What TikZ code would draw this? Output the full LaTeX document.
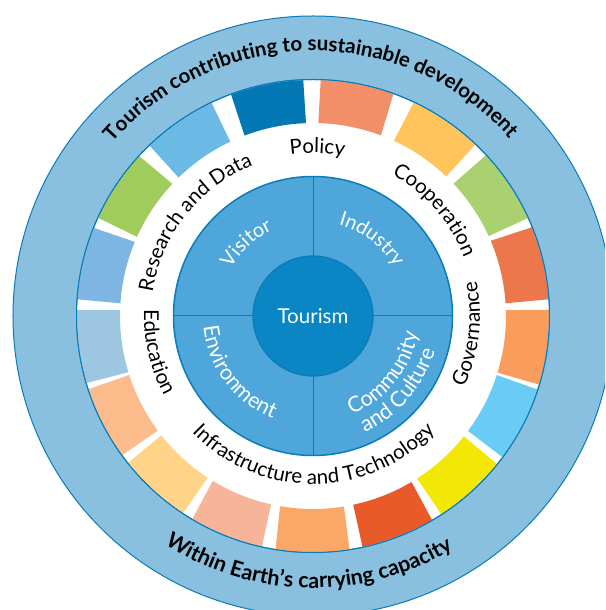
\documentclass[tikz,border=0pt]{standalone}
\usepackage{fontspec}
\setmainfont{Lato}
\usetikzlibrary{decorations.text}
\definecolor{ringfill}{HTML}{89BFDF}
\definecolor{edgeblue}{HTML}{0A7CB8}
\definecolor{wheelblue}{HTML}{4EA6DA}
\definecolor{hubblue}{HTML}{0A86C5}
\definecolor{sa}{HTML}{0378B5}
\definecolor{sb}{HTML}{F28F68}
\definecolor{sc}{HTML}{FFC45C}
\definecolor{sd}{HTML}{A9D16F}
\definecolor{se}{HTML}{EC774B}
\definecolor{sf}{HTML}{F99C5C}
\definecolor{sg}{HTML}{69CCF5}
\definecolor{sh}{HTML}{F2E705}
\definecolor{si}{HTML}{E95A2A}
\definecolor{sj}{HTML}{F9A868}
\definecolor{sk}{HTML}{F6B599}
\definecolor{sl}{HTML}{FFD488}
\definecolor{sm}{HTML}{FBBB8A}
\definecolor{sn}{HTML}{9DC6E1}
\definecolor{so}{HTML}{7FB5E2}
\definecolor{sp}{HTML}{9FCC5C}
\definecolor{sq}{HTML}{6BB9E5}
\newcommand\seg[9]{%
  \pgfmathsetmacro\oa{atan2(316-#3,#2-313)}%
  \pgfmathsetmacro\ob{atan2(316-#5,#4-313)}%
  \pgfmathsetmacro\ob{\oa-mod(\oa-\ob+720,360)}%
  \pgfmathsetmacro\ib{atan2(316-#7,#6-313)}%
  \pgfmathsetmacro\ia{atan2(316-#9,#8-313)}%
  \pgfmathsetmacro\ia{\ib+mod(\ia-\ib+720,360)}%
  \fill[fill=#1] (\oa:236pt) arc[start angle=\oa,end angle=\ob,radius=236pt]
    -- (\ib:193pt) arc[start angle=\ib,end angle=\ia,radius=193pt] -- cycle;
}
% radius, centre angle, half span, +1 clockwise / -1 counterclockwise, text spec
\newcommand\arctext[5]{%
  \pgfmathsetmacro\sta{#2+#4*#3}%
  \pgfmathsetmacro\ena{#2-#4*#3}%
  \path[decorate,decoration={text along path,text align=center,text={#5}}]
    (\sta:#1pt) arc[start angle=\sta,end angle=\ena,radius=#1pt];
}
\newcommand\fsouter{\fontsize{20.5}{20.5}\bfseries\selectfont}
\newcommand\fsouterb{\fontsize{21.5}{21.5}\bfseries\selectfont}
\newcommand\fsband{\fontsize{20.5}{20.5}\selectfont}
\newcommand\fswheel{\color{white}\fontsize{20}{20}\selectfont}
\newcommand\fswheelb{\color{white}\fontsize{21.5}{21.5}\selectfont}
\begin{document}
\begin{tikzpicture}
\useasboundingbox (-313pt,-294pt) rectangle (292pt,316pt);
\clip (-313pt,-294pt) rectangle (292pt,316pt);
\fill[white] (-313pt,-294pt) rectangle (292pt,316pt);
\draw[fill=ringfill,draw=edgeblue,line width=1pt] (0,0) circle[radius=300pt];
\draw[fill=white,draw=edgeblue,line width=1pt] (0,0) circle[radius=236.5pt];
% seventeen segments, clockwise from the top: outer start, outer end, inner end, inner start
\seg{sa}{231}{94.3}{303.3}{80.7}{306}{122.7}{244.3}{135}
\seg{sb}{320.7}{81}{393.3}{94.3}{381}{135}{318.3}{123}
\seg{sc}{413.3}{103.3}{475}{145}{446.7}{176}{394.3}{140}
\seg{sd}{485}{156}{527.3}{218.3}{489}{236}{454}{183.3}
\seg{se}{531.7}{227.3}{548.3}{299.3}{505.7}{303.3}{491}{240.7}
\seg{sf}{548.5}{310}{537.3}{384}{497.7}{372.7}{506}{310}
\seg{sg}{536.7}{389.3}{501}{456}{467.7}{430.7}{496.7}{375}
\seg{sh}{496}{463.3}{440.7}{513.3}{417.7}{479.3}{464.3}{436.7}
\seg{si}{431.7}{519.3}{362.3}{546}{353.3}{505}{411.7}{482.3}
\seg{sj}{349.3}{548.3}{275.7}{548.3}{280}{506.7}{344}{506.7}
\seg{sk}{262.3}{545}{192.7}{518.3}{212.3}{481.7}{271}{504.3}
\seg{sl}{184}{511.7}{129.3}{461.7}{161}{435.7}{207.3}{478.3}
\seg{sm}{123.3}{454.3}{89.3}{389}{129}{375}{157.3}{431}
\seg{sn}{87.7}{382.7}{77}{310}{120}{310}{128}{372.3}
\seg{so}{77.7}{299.3}{95}{228.3}{134.3}{241.7}{120}{303.3}
\seg{sp}{99.3}{218.3}{140}{156.7}{171.7}{183.3}{136.7}{236.7}
\seg{sq}{150}{146}{212.3}{104.3}{230}{141}{178.3}{177.3}
\draw[edgeblue,line width=1pt] (0,0) circle[radius=236.5pt];
% wheel
\draw[fill=wheelblue,draw=edgeblue,line width=1.5pt] (0,0) circle[radius=139.5pt];
\draw[edgeblue,line width=1pt] (0pt,139pt) -- (0pt,-139pt) (-139pt,0pt) -- (139pt,0pt);
\node[circle,fill=hubblue,draw=edgeblue,line width=1.2pt,minimum size=120pt,inner sep=0pt,
      text=white,font=\fontsize{20.5}{20.5}\selectfont] (hub) at (0,0) {Tourism};
% outer ring text
\arctext{265}{90.5}{75}{1}{|\fsouter|Tourism contributing to sustainable development}
\arctext{272}{269}{50}{-1}{|\fsouterb|Within Earth’s carrying capacity}
% band text
\arctext{163}{88.5}{30}{1}{|\fsband|Policy}
\arctext{162}{141.6}{45}{1}{|\fsband|Research and Data}
\arctext{162}{41}{35}{1}{|\fsband|Cooperation}
\arctext{167}{-6.6}{35}{-1}{|\fsband|Governance}
\arctext{168}{270.3}{70}{-1}{|\fsband|Infrastructure and Technology}
\arctext{169}{193}{30}{-1}{|\fsband|Education}
% wheel text
\arctext{95}{132.5}{35}{1}{|\fswheel|Visitor}
\arctext{95}{52.5}{35}{1}{|\fswheel|Industry}
\arctext{110}{217}{45}{-1}{|\fswheelb|Environment}
\arctext{106}{-39}{42}{-1}{|\fswheelb|Community}
\arctext{127}{-41}{42}{-1}{|\fswheelb|and Culture}
\end{tikzpicture}
\end{document}
